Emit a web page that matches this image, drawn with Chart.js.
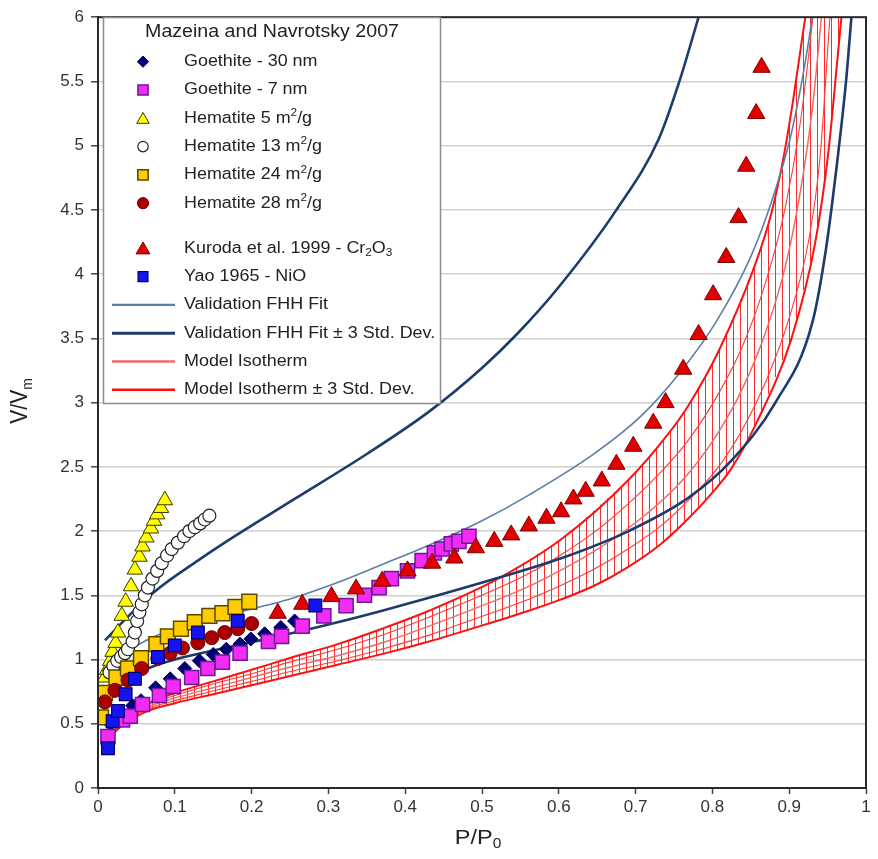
<!DOCTYPE html>
<html>
<head>
<meta charset="utf-8">
<script src="https://cdn.jsdelivr.net/npm/chart.js@4.4.0/dist/chart.umd.min.js"></script>
<style>
html,body{margin:0;padding:0;background:#ffffff;}
canvas{display:block;}
</style>
</head>
<body>
<canvas id="c" width="878" height="859"></canvas>
<script>
const FONT = '"Liberation Sans", Arial, Helvetica, sans-serif';

// ---------- axis ticks ----------
const xTickValues = [0, 0.1, 0.2, 0.3, 0.4, 0.5, 0.6, 0.7, 0.8, 0.9, 1];
const xTickLabels = ['0', '0.1', '0.2', '0.3', '0.4', '0.5', '0.6', '0.7', '0.8', '0.9', '1'];
const yTickValues = [0, 0.5, 1, 1.5, 2, 2.5, 3, 3.5, 4, 4.5, 5, 5.5, 6];
const yTickLabels = ['0', '0.5', '1', '1.5', '2', '2.5', '3', '3.5', '4', '4.5', '5', '5.5', '6'];
const xAxisTitle = 'P/P_0';
const yAxisTitle = 'V/V_m';

// ---------- legend texts ----------
const legendTitle = 'Mazeina and Navrotsky 2007';
const seriesNames = [
  'Goethite - 30 nm',
  'Goethite - 7 nm',
  'Hematite 5 m^2/g',
  'Hematite 13 m^2/g',
  'Hematite 24 m^2/g',
  'Hematite 28 m^2/g',
  'Kuroda et al. 1999 - Cr_2O_3',
  'Yao 1965 - NiO'
];
const lineNames = [
  'Validation FHH Fit',
  'Validation FHH Fit \u00b1 3 Std. Dev.',
  'Model Isotherm',
  'Model Isotherm \u00b1 3 Std. Dev.'
];

// ---------- measured points [P/P0, V/Vm] ----------
const goethite30nm = [[0.016,0.50],[0.030,0.58],[0.045,0.64],[0.056,0.68],[0.075,0.78],[0.094,0.85],[0.113,0.93],[0.132,0.99],[0.150,1.04],[0.167,1.08],[0.185,1.12],[0.199,1.16],[0.217,1.20],[0.238,1.25],[0.256,1.30]];
const goethite7nm = [[0.013,0.40],[0.032,0.53],[0.042,0.56],[0.058,0.65],[0.080,0.72],[0.098,0.79],[0.122,0.86],[0.143,0.93],[0.162,0.98],[0.185,1.05],[0.222,1.14],[0.239,1.18],[0.266,1.26],[0.294,1.34],[0.323,1.42],[0.347,1.50],[0.366,1.56],[0.382,1.63],[0.403,1.69],[0.422,1.77],[0.438,1.83],[0.448,1.86],[0.460,1.90],[0.470,1.92],[0.483,1.96]];
const hematite5 = [[0.009,0.86],[0.012,0.92],[0.016,0.99],[0.019,1.06],[0.023,1.13],[0.026,1.21],[0.031,1.34],[0.036,1.45],[0.043,1.57],[0.048,1.70],[0.054,1.80],[0.058,1.88],[0.063,1.95],[0.069,2.02],[0.073,2.08],[0.077,2.13],[0.082,2.18],[0.087,2.24]];
const hematite13 = [[0.015,0.90],[0.020,0.95],[0.025,0.99],[0.030,1.02],[0.035,1.05],[0.039,1.08],[0.045,1.14],[0.048,1.21],[0.051,1.30],[0.054,1.37],[0.057,1.43],[0.061,1.50],[0.065,1.56],[0.071,1.63],[0.077,1.69],[0.083,1.75],[0.090,1.81],[0.096,1.86],[0.104,1.91],[0.112,1.96],[0.119,2.00],[0.126,2.03],[0.133,2.06],[0.139,2.09],[0.145,2.12]];
const hematite24 = [[0.004,0.55],[0.009,0.74],[0.024,0.86],[0.039,0.93],[0.056,1.01],[0.076,1.12],[0.091,1.18],[0.108,1.24],[0.126,1.29],[0.145,1.34],[0.162,1.36],[0.179,1.41],[0.197,1.45]];
const hematite28 = [[0.009,0.67],[0.022,0.76],[0.039,0.84],[0.057,0.93],[0.078,1.01],[0.094,1.05],[0.110,1.09],[0.130,1.13],[0.148,1.17],[0.165,1.21],[0.182,1.24],[0.200,1.28]];
const kurodaCr2O3 = [[0.234,1.36],[0.266,1.43],[0.304,1.49],[0.336,1.55],[0.370,1.61],[0.403,1.69],[0.435,1.75],[0.464,1.79],[0.492,1.87],[0.516,1.92],[0.538,1.97],[0.561,2.04],[0.584,2.10],[0.603,2.15],[0.619,2.25],[0.635,2.31],[0.656,2.39],[0.675,2.52],[0.697,2.66],[0.723,2.84],[0.739,3.00],[0.762,3.26],[0.782,3.53],[0.801,3.84],[0.818,4.13],[0.834,4.44],[0.844,4.84],[0.857,5.25],[0.864,5.61]];
const yaoNiO = [[0.013,0.31],[0.019,0.52],[0.026,0.60],[0.036,0.73],[0.048,0.85],[0.078,1.02],[0.100,1.11],[0.130,1.21],[0.182,1.30],[0.283,1.42]];

// ---------- curves [P/P0, V/Vm] ----------
const validationFit = [[0.009,0.85],[0.03,1.02],[0.06,1.14],[0.10,1.24],[0.15,1.32],[0.204,1.40],[0.249,1.47],[0.312,1.60],[0.37,1.74],[0.431,1.89],[0.50,2.08],[0.561,2.28],[0.648,2.61],[0.708,2.90],[0.756,3.22],[0.804,3.62],[0.851,4.15],[0.879,4.60],[0.901,5.05],[0.914,5.42],[0.925,5.80],[0.93,6.0]];
const validationPlus3SD = [[0.009,1.15],[0.04,1.34],[0.074,1.53],[0.13,1.77],[0.165,1.91],[0.256,2.25],[0.35,2.60],[0.431,2.93],[0.50,3.27],[0.545,3.53],[0.60,3.90],[0.675,4.50],[0.73,5.05],[0.757,5.50],[0.782,6.0]];
const validationMinus3SD = [[0.009,0.62],[0.03,0.80],[0.065,0.93],[0.10,1.00],[0.15,1.07],[0.204,1.14],[0.249,1.20],[0.312,1.29],[0.37,1.38],[0.431,1.48],[0.518,1.63],[0.604,1.79],[0.691,2.00],[0.769,2.26],[0.825,2.55],[0.882,3.00],[0.93,3.62],[0.948,4.20],[0.963,4.90],[0.974,5.50],[0.981,6.0]];
const modelIsotherm = [[0.004,0.345],[0.03,0.52],[0.065,0.63],[0.10,0.70],[0.15,0.78],[0.20,0.86],[0.249,0.94],[0.312,1.03],[0.375,1.14],[0.431,1.26],[0.492,1.40],[0.561,1.57],[0.604,1.70],[0.648,1.85],[0.69,2.02],[0.733,2.23],[0.769,2.45],[0.808,2.77],[0.84,3.12],[0.87,3.56],[0.895,4.06],[0.915,4.66],[0.93,5.28],[0.942,6.0]];
const modelPlus3SD = [[0.004,0.36],[0.03,0.55],[0.065,0.66],[0.10,0.74],[0.15,0.83],[0.20,0.92],[0.249,1.01],[0.312,1.12],[0.37,1.24],[0.431,1.38],[0.518,1.62],[0.604,1.94],[0.691,2.40],[0.743,2.76],[0.769,2.98],[0.808,3.40],[0.856,4.08],[0.877,4.48],[0.893,4.92],[0.905,5.35],[0.916,5.80],[0.921,6.0]];
const modelMinus3SD = [[0.004,0.33],[0.03,0.48],[0.065,0.60],[0.10,0.66],[0.15,0.73],[0.20,0.80],[0.249,0.87],[0.312,0.96],[0.375,1.05],[0.431,1.14],[0.492,1.25],[0.561,1.38],[0.604,1.47],[0.648,1.58],[0.690,1.72],[0.733,1.90],[0.769,2.10],[0.80,2.30],[0.825,2.49],[0.858,2.85],[0.903,3.50],[0.934,4.25],[0.951,4.95],[0.964,5.75],[0.968,6.0]];
const modelInnerUpper = [[0.004,0.355],[0.03,0.54],[0.065,0.65],[0.10,0.72],[0.15,0.81],[0.20,0.89],[0.249,0.98],[0.312,1.08],[0.375,1.20],[0.431,1.33],[0.492,1.48],[0.561,1.67],[0.604,1.82],[0.648,2.00],[0.69,2.21],[0.733,2.46],[0.769,2.71],[0.808,3.07],[0.84,3.45],[0.87,3.95],[0.895,4.52],[0.915,5.20],[0.931,6.0]];
const modelInnerLower = [[0.004,0.335],[0.03,0.50],[0.065,0.615],[0.10,0.68],[0.15,0.755],[0.20,0.83],[0.249,0.905],[0.312,0.99],[0.375,1.09],[0.431,1.19],[0.492,1.32],[0.561,1.47],[0.604,1.58],[0.648,1.71],[0.69,1.86],[0.733,2.04],[0.769,2.24],[0.808,2.50],[0.84,2.80],[0.87,3.17],[0.90,3.66],[0.925,4.25],[0.94,4.90],[0.953,6.0]];

const pts = arr => arr.map(p => ({x: p[0], y: p[1]}));

// marker series (styles)
const markerSeries = [
  {data: goethite30nm, style: 'rectRot', r: 7,    fill: '#00007a', stroke: '#000048', bw: 1,   order: 8},
  {data: goethite7nm,  style: 'rect',    r: 10,   fill: '#f22cf2', stroke: '#6a1a9a', bw: 1.5, order: 7},
  {data: hematite5,    style: 'triangle',r: 9,    fill: '#ffff00', stroke: '#3a3a00', bw: 1,   order: 6},
  {data: hematite13,   style: 'circle',  r: 6.5,  fill: '#ffffff', stroke: '#222222', bw: 1.2, order: 5},
  {data: hematite24,   style: 'rect',    r: 10.5, fill: '#ffcc00', stroke: '#5a4800', bw: 1.5, order: 4},
  {data: hematite28,   style: 'circle',  r: 7,    fill: '#a80000', stroke: '#6a0000', bw: 1,   order: 3},
  {data: kurodaCr2O3,  style: 'triangle',r: 10,   fill: '#e00000', stroke: '#7a0000', bw: 1,   order: 2},
  {data: yaoNiO,       style: 'rect',    r: 9,    fill: '#1414f0', stroke: '#00006a', bw: 1.2, order: 1}
];
const legendMarkerScale = [0.8, 0.72, 0.8, 0.8, 0.7, 0.8, 0.8, 0.78];
const lineStyles = {
  fit:   {color: '#5b7fa6', width: 1.6},
  fitSD: {color: '#1d3b6c', width: 2.6},
  model: {color: '#f06a6a', width: 1.5},
  modelSD: {color: '#ff1010', width: 2},
  inner: {color: '#ff3a3a', width: 1.1}
};

const datasets = [];
markerSeries.forEach((s, i) => {
  datasets.push({
    label: seriesNames[i], data: pts(s.data), showLine: false,
    pointStyle: s.style, pointRadius: s.r, pointBackgroundColor: s.fill,
    pointBorderColor: s.stroke, pointBorderWidth: s.bw, order: s.order
  });
});
function lineDs(label, arr, st, order) {
  return {label, data: pts(arr), showLine: true, pointRadius: 0, pointHoverRadius: 0,
    borderColor: st.color, borderWidth: st.width, backgroundColor: 'transparent', fill: false,
    cubicInterpolationMode: 'monotone', order};
}
const IDX_MODEL_UP = datasets.length + 4;
const IDX_MODEL_LO = datasets.length + 5;
datasets.push(lineDs(lineNames[0], validationFit, lineStyles.fit, 15));
datasets.push(lineDs(lineNames[1], validationPlus3SD, lineStyles.fitSD, 14));
datasets.push(lineDs(lineNames[1], validationMinus3SD, lineStyles.fitSD, 14));
datasets.push(lineDs(lineNames[2], modelIsotherm, lineStyles.model, 20));
datasets.push(lineDs(lineNames[3], modelPlus3SD, lineStyles.modelSD, 19));
datasets.push(lineDs(lineNames[3], modelMinus3SD, lineStyles.modelSD, 19));
datasets.push(lineDs('inner', modelInnerUpper, lineStyles.inner, 21));
datasets.push(lineDs('inner', modelInnerLower, lineStyles.inner, 21));

// ---------- helpers ----------
function drawRich(ctx, str, x, y, size) {
  const runs = [];
  let buf = '';
  for (let i = 0; i < str.length; i++) {
    const ch = str[i];
    if ((ch === '^' || ch === '_') && i + 1 < str.length) {
      if (buf) { runs.push({t: buf, k: 'n'}); buf = ''; }
      runs.push({t: str[i + 1], k: ch === '^' ? 'sup' : 'sub'});
      i++;
    } else buf += ch;
  }
  if (buf) runs.push({t: buf, k: 'n'});
  let cx = x;
  runs.forEach(r => {
    if (r.k === 'n') {
      ctx.font = size + 'px ' + FONT;
      ctx.fillText(r.t, cx, y);
    } else {
      ctx.font = (size * 0.66) + 'px ' + FONT;
      ctx.fillText(r.t, cx, y + (r.k === 'sup' ? -size * 0.33 : size * 0.3));
    }
    cx += ctx.measureText(r.t).width;
  });
  return cx - x;
}
function richWidth(ctx, str, size) {
  ctx.save();
  ctx.globalAlpha = 0;
  const w = drawRich(ctx, str, -9999, -9999, size);
  ctx.restore();
  return w;
}
function marker(ctx, style, x, y, r, fill, stroke, bw) {
  ctx.beginPath();
  if (style === 'circle') ctx.arc(x, y, r, 0, Math.PI * 2);
  else if (style === 'rect') { const s = r * Math.SQRT1_2; ctx.rect(x - s, y - s, 2 * s, 2 * s); }
  else if (style === 'rectRot') { ctx.moveTo(x, y - r); ctx.lineTo(x + r, y); ctx.lineTo(x, y + r); ctx.lineTo(x - r, y); ctx.closePath(); }
  else if (style === 'triangle') { const yc = y + r * 0.2; ctx.moveTo(x, yc - r); ctx.lineTo(x + r * 0.866, yc + r * 0.5); ctx.lineTo(x - r * 0.866, yc + r * 0.5); ctx.closePath(); }
  ctx.fillStyle = fill; ctx.fill();
  ctx.lineWidth = bw; ctx.strokeStyle = stroke; ctx.stroke();
}
function yOnPolyline(points, px) {
  for (let i = 0; i < points.length - 1; i++) {
    const a = points[i], b = points[i + 1];
    if (px >= a.x && px <= b.x) {
      const t = (b.x === a.x) ? 0 : (px - a.x) / (b.x - a.x);
      return a.y + t * (b.y - a.y);
    }
  }
  return null;
}

// ---------- plugins ----------
const hatchPlugin = {
  id: 'hatch',
  beforeDatasetsDraw(chart) {
    const ctx = chart.ctx, area = chart.chartArea;
    const up = chart.getDatasetMeta(IDX_MODEL_UP).data.map(p => ({x: p.x, y: p.y}));
    const lo = chart.getDatasetMeta(IDX_MODEL_LO).data.map(p => ({x: p.x, y: p.y}));
    ctx.save();
    ctx.beginPath();
    ctx.rect(area.left, area.top, area.right - area.left, area.bottom - area.top);
    ctx.clip();
    ctx.beginPath();
    const startX = Math.max(up[0].x, lo[0].x) + 2;
    const endX = lo[lo.length - 1].x;
    for (let px = Math.round(startX) + 0.5; px <= endX; px += 7) {
      const yl = yOnPolyline(lo, px);
      let yu = px > up[up.length - 1].x ? area.top : yOnPolyline(up, px);
      if (yl === null || yu === null) continue;
      ctx.moveTo(px, yl);
      ctx.lineTo(px, Math.max(yu, area.top));
    }
    ctx.strokeStyle = '#ff2a2a';
    ctx.lineWidth = 1;
    ctx.stroke();
    ctx.restore();
  }
};

const overlayPlugin = {
  id: 'overlay',
  afterDatasetsDraw(chart) {
    const ctx = chart.ctx, a = chart.chartArea;
    ctx.save();
    ctx.strokeStyle = '#2a2a2a';
    ctx.lineWidth = 2;
    ctx.strokeRect(a.left, a.top, a.right - a.left, a.bottom - a.top);

    // legend box
    const bx = 103.5, by = 17.5, bw = 337, bh = 386;
    ctx.fillStyle = '#ffffff';
    ctx.fillRect(bx, by, bw, bh);
    ctx.strokeStyle = '#8c8c8c';
    ctx.lineWidth = 1.5;
    ctx.strokeRect(bx, by, bw, bh);

    const SX = 1.12;
    ctx.fillStyle = '#222222';
    ctx.textBaseline = 'middle';
    ctx.textAlign = 'left';
    const tSize = 17.5;
    const tw = richWidth(ctx, legendTitle, tSize) * SX;
    ctx.save();
    ctx.translate(272 - tw / 2, 32);
    ctx.scale(SX, 1);
    ctx.fillStyle = '#222222';
    drawRich(ctx, legendTitle, 0, 0, tSize);
    ctx.restore();

    const textX = 184, markX = 143, size = 16, step = 28.3;
    const rowY = [];
    for (let i = 0; i < 6; i++) rowY.push(61.7 + step * i);
    for (let j = 0; j < 6; j++) rowY.push(248.3 + step * j);

    markerSeries.forEach((s, i) => {
      marker(ctx, s.style, markX, rowY[i], s.r * legendMarkerScale[i], s.fill, s.stroke, s.bw);
      ctx.save();
      ctx.translate(textX, rowY[i]);
      ctx.scale(SX, 1);
      ctx.fillStyle = '#222222';
      drawRich(ctx, seriesNames[i], 0, 0, size);
      ctx.restore();
    });
    const ls = [lineStyles.fit, lineStyles.fitSD, lineStyles.model, lineStyles.modelSD];
    const lw = [2.4, 3, 2.4, 2.6];
    ls.forEach((st, k) => {
      const y = rowY[8 + k];
      ctx.beginPath();
      ctx.moveTo(112, y); ctx.lineTo(175, y);
      ctx.strokeStyle = st.color; ctx.lineWidth = lw[k];
      ctx.stroke();
      ctx.save();
      ctx.translate(textX, y);
      ctx.scale(SX, 1);
      ctx.fillStyle = '#222222';
      drawRich(ctx, lineNames[k], 0, 0, size);
      ctx.restore();
    });

    // axis titles
    ctx.fillStyle = '#222222';
    const axSize = 21;
    const xw = richWidth(ctx, xAxisTitle, axSize) * SX;
    ctx.save();
    ctx.translate(478 - xw / 2, 838);
    ctx.scale(SX, 1);
    drawRich(ctx, xAxisTitle, 0, 0, axSize);
    ctx.restore();

    const yw = richWidth(ctx, yAxisTitle, axSize);
    ctx.save();
    ctx.translate(21, 401);
    ctx.rotate(-Math.PI / 2);
    ctx.scale(1, SX);
    drawRich(ctx, yAxisTitle, -yw / 2, 0, axSize);
    ctx.restore();

    ctx.restore();
  }
};

new Chart(document.getElementById('c'), {
  type: 'scatter',
  data: {datasets},
  options: {
    responsive: false,
    animation: false,
    events: [],
    layout: {padding: {top: 13, right: 10, left: 0, bottom: 0}},
    plugins: {legend: {display: false}, tooltip: {enabled: false}, title: {display: false}},
    scales: {
      x: {
        type: 'linear', min: 0, max: 1,
        afterFit(s) { s.height = 71; },
        afterBuildTicks(s) { s.ticks = xTickValues.map(v => ({value: v})); },
        ticks: {
          callback: (v, i) => xTickLabels[i],
          font: {family: FONT, size: 17}, color: '#333333', padding: 3,
          maxRotation: 0, autoSkip: false
        },
        grid: {drawOnChartArea: false, drawTicks: true, tickLength: 6, tickColor: '#444444', tickWidth: 1.5},
        border: {color: '#2a2a2a', width: 2}
      },
      y: {
        type: 'linear', min: 0, max: 6,
        afterFit(s) { s.width = 98; },
        afterBuildTicks(s) { s.ticks = yTickValues.map(v => ({value: v})); },
        ticks: {
          callback: (v, i) => yTickLabels[i],
          font: {family: FONT, size: 17}, color: '#333333', padding: 7,
          autoSkip: false
        },
        grid: {color: '#d0d0d0', lineWidth: 1.6, drawTicks: true, tickLength: 7, tickColor: '#444444', tickWidth: 1.5},
        border: {color: '#2a2a2a', width: 2}
      }
    }
  },
  plugins: [hatchPlugin, overlayPlugin]
});
</script>
</body>
</html>
